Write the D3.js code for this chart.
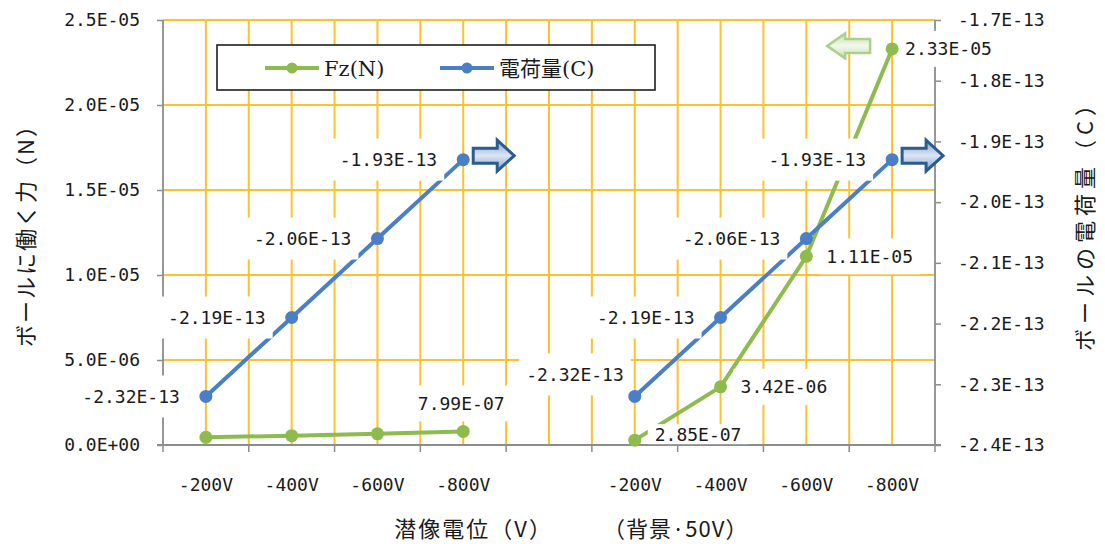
<!DOCTYPE html>
<html>
<head>
<meta charset="utf-8">
<script src="https://cdn.jsdelivr.net/npm/d3@7"></script>
<style>
  body { margin: 0; background: #fff; }
  svg { display: block; }
</style>
</head>
<body>
<svg id="chart" width="1105" height="550"></svg>
<script>
// ---- data ----
const categories = ["-200V", "-400V", "-600V", "-800V", "", "-200V", "-400V", "-600V", "-800V"];
const forceN = [4.5e-7, 5.5e-7, 6.6e-7, 7.99e-7, null, 2.85e-7, 3.42e-6, 1.11e-5, 2.33e-5];
const chargeC = [-2.32e-13, -2.19e-13, -2.06e-13, -1.93e-13, null, -2.32e-13, -2.19e-13, -2.06e-13, -1.93e-13];
const forceLabelShown = [false, false, false, true, false, true, true, true, true];
const chargeLabelShown = [true, true, true, true, false, true, true, true, true];
const leftTicks = [0, 5e-6, 1e-5, 1.5e-5, 2e-5, 2.5e-5];
const leftTickLabels = ["0.0E+00", "5.0E-06", "1.0E-05", "1.5E-05", "2.0E-05", "2.5E-05"];
const rightTicks = [-2.4e-13, -2.3e-13, -2.2e-13, -2.1e-13, -2.0e-13, -1.9e-13, -1.8e-13, -1.7e-13];
const rightTickLabels = ["-2.4E-13", "-2.3E-13", "-2.2E-13", "-2.1E-13", "-2.0E-13", "-1.9E-13", "-1.8E-13", "-1.7E-13"];
const seriesNames = ["Fz(N)", "電荷量(C)"];

// ---- layout & style ----
const W = 1105, H = 550;
const plot = { left: 163, right: 935, top: 20, bottom: 445 };
const GREEN = "#8DBB4E", BLUE = "#4A7FC6", GRID = "#FCC22C", AXIS = "#8C8C8C";
const NUM_FONT = "'DejaVu Sans Mono', monospace";
const JP_FONT = "'Noto Sans CJK JP', sans-serif";

const svg = d3.select("#chart");
svg.append("rect").attr("width", W).attr("height", H).attr("fill", "#fff");

const idx = d3.range(categories.length);
const x = d3.scaleBand().domain(idx).range([plot.left, plot.right]).padding(0);
const cx = i => x(i) + x.bandwidth() / 2;
const yL = d3.scaleLinear().domain([0, 2.5e-5]).range([plot.bottom, plot.top]);
const yR = d3.scaleLinear().domain([-2.4e-13, -1.7e-13]).range([plot.bottom, plot.top]);

function sci(v) {
  const [m, e] = v.toExponential(2).split("e");
  const n = +e;
  return m.toUpperCase() + "E" + (n < 0 ? "-" : "+") + String(Math.abs(n)).padStart(2, "0");
}

// ---- gridlines ----
const grid = svg.append("g").attr("stroke", GRID).attr("stroke-width", 2);
grid.selectAll("line.h").data(leftTicks).join("line")
  .attr("x1", plot.left).attr("x2", plot.right)
  .attr("y1", d => yL(d)).attr("y2", d => yL(d));
// vertical lines at every category boundary and centre
const vx = [];
idx.forEach(i => { if (i > 0) vx.push(x(i)); vx.push(cx(i)); });
grid.selectAll("line.v").data(vx).join("line")
  .attr("x1", d => d).attr("x2", d => d)
  .attr("y1", plot.top).attr("y2", plot.bottom);

// ---- axes ----
const axL = svg.append("g").attr("transform", `translate(${plot.left},0)`)
  .call(d3.axisLeft(yL).tickValues(leftTicks).tickSize(6)
    .tickFormat((d, i) => leftTickLabels[i]).tickPadding(17));
const axR = svg.append("g").attr("transform", `translate(${plot.right},0)`)
  .call(d3.axisRight(yR).tickValues(rightTicks).tickSize(6)
    .tickFormat((d, i) => rightTickLabels[i]).tickPadding(17));
const axB = svg.append("g").attr("transform", `translate(0,${plot.bottom})`)
  .call(d3.axisBottom(x).tickSize(0).tickFormat(i => categories[i]).tickPadding(33));
// category boundary ticks
axB.selectAll("line.bt").data(d3.range(categories.length + 1)).join("line")
  .attr("class", "bt")
  .attr("x1", i => plot.left + i * x.bandwidth()).attr("x2", i => plot.left + i * x.bandwidth())
  .attr("y1", 0).attr("y2", 7).attr("stroke", AXIS).attr("stroke-width", 1.5);

[axL, axR, axB].forEach(g => {
  g.select(".domain").attr("stroke", AXIS).attr("stroke-width", 1.8);
  g.selectAll(".tick line").attr("stroke", AXIS).attr("stroke-width", 1.5);
  g.selectAll("text").attr("font-family", NUM_FONT).attr("font-size", 18).attr("fill", "#1a1a1a");
});
axL.select(".domain").attr("d", `M0,${plot.top}V${plot.bottom}`);
axR.select(".domain").attr("d", `M0,${plot.top}V${plot.bottom}`);
axB.select(".domain").attr("d", `M${plot.left - 6},0H${plot.right + 6}`);

// ---- series lines ----
const lineF = d3.line().defined(d => d != null).x((d, i) => cx(i)).y(d => yL(d));
const lineC = d3.line().defined(d => d != null).x((d, i) => cx(i)).y(d => yR(d));
svg.append("path").datum(forceN).attr("d", lineF)
  .attr("fill", "none").attr("stroke", GREEN).attr("stroke-width", 4).attr("stroke-linejoin", "round");
svg.append("path").datum(chargeC).attr("d", lineC)
  .attr("fill", "none").attr("stroke", BLUE).attr("stroke-width", 4).attr("stroke-linejoin", "round");

// ---- data labels (white boxes behind text) ----
const labels = [];
chargeC.forEach((v, i) => {
  if (v == null || !chargeLabelShown[i]) return;
  const shifted = i === 5;
  labels.push({ text: sci(v), x: cx(i) - (shifted ? 11 : 26), y: yR(v) - (shifted ? 22 : 0), anchor: "end", half: 21 });
});
forceN.forEach((v, i) => {
  if (v == null || !forceLabelShown[i]) return;
  if (i === 3) labels.push({ text: sci(v), x: cx(i) - 2, y: yL(v) - 28, anchor: "middle", half: 18 });
  else labels.push({
    text: sci(v), x: cx(i) + (i === 8 ? 13 : 20), y: yL(v) - (i === 5 ? 6 : 0),
    anchor: "start", half: i === 5 ? 10 : 18
  });
});

const lblLayer = svg.append("g");
const boxLayer = lblLayer.append("g");
const markLayer = lblLayer.append("g");
const textLayer = lblLayer.append("g");

const texts = textLayer.selectAll("text").data(labels).join("text")
  .attr("x", d => d.x).attr("y", d => d.y)
  .attr("text-anchor", d => d.anchor).attr("dominant-baseline", "central")
  .attr("font-family", NUM_FONT).attr("font-size", 18).attr("fill", "#1a1a1a")
  .text(d => d.text);
texts.each(function (d) {
  const b = this.getBBox();
  boxLayer.append("rect")
    .attr("x", b.x - 7).attr("y", d.y - d.half)
    .attr("width", b.width + 14).attr("height", d.half * 2)
    .attr("fill", "#fff");
});

// ---- markers ----
markLayer.selectAll("circle.f").data(forceN.map((v, i) => ({ v, i })).filter(d => d.v != null))
  .join("circle").attr("cx", d => cx(d.i)).attr("cy", d => yL(d.v)).attr("r", 6.5).attr("fill", GREEN);
markLayer.selectAll("circle.c").data(chargeC.map((v, i) => ({ v, i })).filter(d => d.v != null))
  .join("circle").attr("cx", d => cx(d.i)).attr("cy", d => yR(d.v)).attr("r", 6.5).attr("fill", BLUE);

// ---- block arrows pointing to the matching axis ----
const defs = svg.append("defs");
function grad(id, edge, mid) {
  const g = defs.append("linearGradient").attr("id", id).attr("x1", 0).attr("y1", 0).attr("x2", 0).attr("y2", 1);
  g.append("stop").attr("offset", "0%").attr("stop-color", edge);
  g.append("stop").attr("offset", "50%").attr("stop-color", mid);
  g.append("stop").attr("offset", "100%").attr("stop-color", edge);
}
grad("gBlue", "#7E9ED0", "#DCE6F4");
grad("gGreen", "#C6E0AE", "#F2F8EC");

function blockArrow(x0, cy, len, h, bodyH, headL, dir) {
  const s = dir; // 1 = right, -1 = left
  const xb = x0 + s * (len - headL), xt = x0 + s * len;
  return `M${x0},${cy - bodyH / 2}L${xb},${cy - bodyH / 2}L${xb},${cy - h / 2}L${xt},${cy}` +
         `L${xb},${cy + h / 2}L${xb},${cy + bodyH / 2}L${x0},${cy + bodyH / 2}Z`;
}
const lastL = 3, lastR = 8;
[lastL, lastR].forEach(i => {
  svg.append("path")
    .attr("d", blockArrow(cx(i) + 10, yR(chargeC[i]) - 4, 41, 31, 15, 17, 1))
    .attr("fill", "url(#gBlue)").attr("stroke", "#2C5B8E").attr("stroke-width", 3)
    .attr("stroke-linejoin", "miter");
});
svg.append("path")
  .attr("d", blockArrow(cx(lastR) - 22, yL(forceN[lastR]) - 3, 43, 25, 14, 18, -1))
  .attr("fill", "url(#gGreen)").attr("stroke", "#A9D18C").attr("stroke-width", 2.5);

// ---- legend ----
const lg = svg.append("g");
lg.append("rect").attr("x", 217).attr("y", 45).attr("width", 438).attr("height", 45)
  .attr("fill", "#fff").attr("stroke", "#1e1e1e").attr("stroke-width", 1.6);
const legendItems = [
  { name: seriesNames[0], color: GREEN, x: 265 },
  { name: seriesNames[1], color: BLUE, x: 440 }
];
legendItems.forEach(it => {
  lg.append("line").attr("x1", it.x).attr("x2", it.x + 54).attr("y1", 68).attr("y2", 68)
    .attr("stroke", it.color).attr("stroke-width", 4);
  lg.append("circle").attr("cx", it.x + 27).attr("cy", 68).attr("r", 5.5).attr("fill", it.color);
  lg.append("text").attr("x", it.x + 59).attr("y", 69).attr("dominant-baseline", "central")
    .attr("font-family", "'DejaVu Serif', 'Noto Sans CJK JP', serif").attr("font-size", 21)
    .attr("fill", "#1a1a1a").text(it.name);
});

// ---- axis titles ----
svg.append("text").attr("transform", "translate(24,230) rotate(-90)")
  .attr("text-anchor", "middle").attr("dominant-baseline", "central")
  .attr("font-family", JP_FONT).attr("font-size", 22).attr("letter-spacing", 2)
  .attr("fill", "#1a1a1a").text("ボールに働く力（N）");
svg.append("text").attr("transform", "translate(1083,220) rotate(-90)")
  .attr("text-anchor", "middle").attr("dominant-baseline", "central")
  .attr("font-family", JP_FONT).attr("font-size", 22).attr("letter-spacing", 5)
  .attr("fill", "#1a1a1a").text("ボールの電荷量（C）");
svg.append("text").attr("x", 553).attr("y", 527)
  .attr("text-anchor", "end").attr("dominant-baseline", "central")
  .attr("font-family", JP_FONT).attr("font-size", 22).attr("letter-spacing", 2)
  .attr("fill", "#1a1a1a").text("潜像電位（V）");
svg.append("text").attr("x", 603).attr("y", 527)
  .attr("text-anchor", "start").attr("dominant-baseline", "central")
  .attr("font-family", JP_FONT).attr("font-size", 22).attr("letter-spacing", 1)
  .attr("fill", "#1a1a1a").text("（背景·50V）");
</script>
</body>
</html>
